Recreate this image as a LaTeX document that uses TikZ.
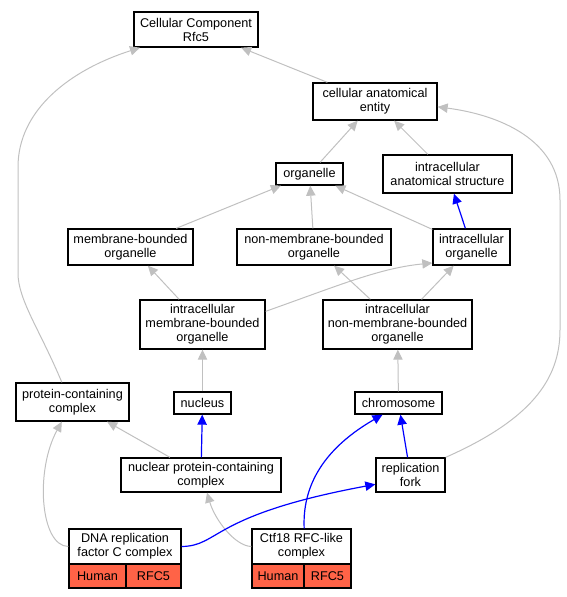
\documentclass[tikz,border=0pt]{standalone}
\usepackage{fontspec}
\setmainfont{Liberation Sans}
\usetikzlibrary{arrows.meta}
\definecolor{edgegray}{HTML}{C0C0C0}
\definecolor{tomato}{HTML}{FF6347}

\begin{document}
\begin{tikzpicture}[x=0.75pt,y=0.75pt,yscale=-1,xscale=1,
  term/.style={draw=black, line width=1pt, fill=white, align=center, inner sep=1pt,
    font=\fontsize{9.5}{10.5}\selectfont},
  cell/.style={term, fill=tomato},
  isa/.style={draw=edgegray, line width=0.75pt, -{Triangle[length=7.5pt,width=7pt]}},
  partof/.style={draw=blue, line width=0.9pt, -{Triangle[length=7.5pt,width=7pt]}}]
%set diagram size to 567 x 597
\useasboundingbox (0,0) rectangle (567,597);

% Terms
\node[term, minimum width=93pt, minimum height=26.25pt] (cc) at (196,29.5) {Cellular Component\\Rfc5};
\node[term, minimum width=93pt, minimum height=27.75pt] (cae) at (375,101.5) {cellular anatomical\\entity};
\node[term, minimum width=50.25pt, minimum height=16.5pt] (org) at (309.5,174) {organelle};
\node[term, minimum width=96.75pt, minimum height=28.5pt] (ias) at (447.5,174) {intracellular\\anatomical structure};
\node[term, minimum width=93.75pt, minimum height=27pt] (mbo) at (130.5,247) {membrane-bounded\\organelle};
\node[term, minimum width=115.5pt, minimum height=27pt] (nmbo) at (314,247) {non-membrane-bounded\\organelle};
\node[term, minimum width=57.75pt, minimum height=27pt] (io) at (471.5,247) {intracellular\\organelle};
\node[term, minimum width=93.75pt, minimum height=36.75pt] (imbo) at (202.5,324.5) {intracellular\\membrane-bounded\\organelle};
\node[term, minimum width=111.75pt, minimum height=36.75pt] (inmbo) at (397.5,324.5) {intracellular\\non-membrane-bounded\\organelle};
\node[term, minimum width=84.75pt, minimum height=28.5pt] (pcc) at (72.5,402) {protein-containing\\complex};
\node[term, minimum width=42.75pt, minimum height=16.5pt] (nuc) at (202.5,403) {nucleus};
\node[term, minimum width=65.25pt, minimum height=16.5pt] (chr) at (398.5,403) {chromosome};
\node[term, minimum width=120pt, minimum height=25.5pt] (npcc) at (201,475) {nuclear protein-containing\\complex};
\node[term, minimum width=51.75pt, minimum height=25.5pt] (rf) at (410.5,475) {replication\\fork};

% Annotated terms
\node[term, minimum width=84pt, minimum height=26.25pt] (dna) at (125,546.5) {DNA replication\\factor C complex};
\node[cell, minimum width=42.75pt, minimum height=18pt] (dnahs) at (97.5,576) {Human};
\node[cell, minimum width=41.25pt, minimum height=18pt] (dnagene) at (153.5,576) {RFC5};
\node[term, minimum width=74.25pt, minimum height=26.25pt] (ctf) at (301.5,546.5) {Ctf18 RFC-like\\complex};
\node[cell, minimum width=39pt, minimum height=18pt] (ctfhs) at (278,576) {Human};
\node[cell, minimum width=35.25pt, minimum height=18pt] (ctfgene) at (327.5,576) {RFC5};

% is_a
\draw[isa] (cae) -- (cc);
\draw[isa] ([xshift=-8pt]pcc.north) .. controls (40,330) and (18,300) .. (18,273) -- (18,167)
  .. controls (18,110) and (70,70) .. ([xshift=5pt]cc.south west);
\draw[isa] (org) -- (cae);
\draw[isa] (ias) -- (cae);
\draw[isa] (rf.north east) .. controls (530,420) and (560,380) .. (560,330) -- (560,200)
  .. controls (560,140) and (500,115) .. ([yshift=4pt]cae.east);
\draw[isa] (mbo) -- (org);
\draw[isa] (nmbo) -- (org);
\draw[isa] (io) -- (org);
\draw[isa] (imbo) -- (mbo);
\draw[isa] ([yshift=9pt]imbo.north east) .. controls (340,285) and (380,268) .. ([yshift=-2pt]io.south west);
\draw[isa] (inmbo) -- (nmbo);
\draw[isa] (inmbo) -- (io);
\draw[isa] (nuc) -- (imbo);
\draw[isa] (chr) -- (inmbo);
\draw[isa] (npcc) -- (pcc);
\draw[isa] (dna.west) .. controls (40,546) and (35,470) .. ([xshift=-8pt]pcc.south);
\draw[isa] (ctf.west) .. controls (235,546) and (215,520) .. ([xshift=4.5pt]npcc.south);

% part_of
\draw[partof] (io) -- (ias);
\draw[partof] (npcc) -- (nuc);
\draw[partof] (rf) -- (chr);
\draw[partof] (dna.east) .. controls (220,546) and (210,515) .. ([yshift=7pt]rf.west);
\draw[partof] ([xshift=2pt]ctf.north) .. controls (302,480) and (330,445) .. ([xshift=-12pt]chr.south);
\end{tikzpicture}
\end{document}
